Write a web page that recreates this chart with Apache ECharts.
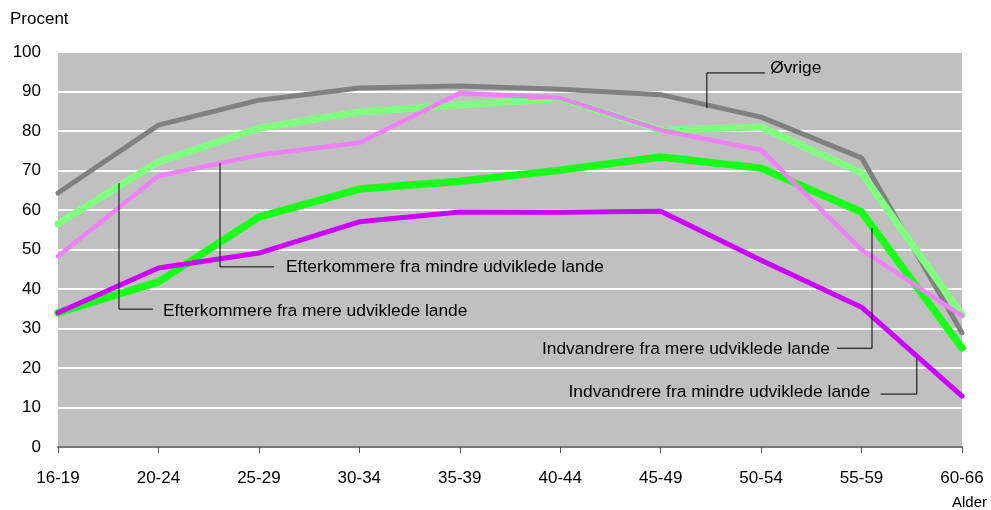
<!DOCTYPE html>
<html>
<head>
<meta charset="utf-8">
<script src="https://cdn.jsdelivr.net/npm/echarts@6/dist/echarts.min.js"></script>
<style>
  html, body { margin: 0; padding: 0; background: #fff; }
  #main { width: 991px; height: 510px; }
</style>
</head>
<body>
<div id="main"></div>
<script>
// age groups
var ages = ['16-19', '20-24', '25-29', '30-34', '35-39', '40-44', '45-49', '50-54', '55-59', '60-66'];

// values (procent)
var ovrige       = [64.3, 81.5, 87.8, 90.9, 91.4, 90.6, 89.2, 83.5, 73.2, 28.9];
var efterMere    = [56.5, 72.2, 80.7, 84.8, 86.6, 88.2, 80.2, 81.0, 69.4, 33.4];
var efterMindre  = [48.3, 68.6, 73.9, 77.0, 89.6, 88.4, 80.2, 75.2, 49.9, 33.2];
var indvMere     = [34.0, 41.8, 58.2, 65.3, 67.3, 70.1, 73.4, 70.6, 59.5, 25.1];
var indvMindre   = [34.0, 45.3, 49.1, 57.0, 59.5, 59.4, 59.7, 47.3, 35.4, 12.9];

var yTicks = [0, 10, 20, 30, 40, 50, 60, 70, 80, 90, 100];

var fontFam = '"Liberation Sans", Arial, sans-serif';

var chart = echarts.init(document.getElementById('main'));

function mkLine(name, data, color, width) {
  return {
    name: name,
    type: 'line',
    data: data,
    symbol: 'none',
    silent: true,
    lineStyle: { color: color, width: width, cap: 'round', join: 'round' }
  };
}

var option = {
  animation: false,
  backgroundColor: '#ffffff',
  grid: {
    left: 58, right: 29, top: 52, bottom: 63,
    show: true, backgroundColor: '#c0c0c0', borderWidth: 0
  },
  xAxis: {
    type: 'category',
    data: ages,
    boundaryGap: false,
    axisLine: { lineStyle: { color: '#777777', width: 2 } },
    axisTick: { show: true, length: 6, lineStyle: { color: '#555555', width: 1 } },
    axisLabel: { color: '#000', fontSize: 17, fontFamily: fontFam, margin: 23 },
    splitLine: { show: false }
  },
  yAxis: {
    type: 'value',
    min: yTicks[0], max: yTicks[yTicks.length - 1], interval: 10,
    axisLine: { show: false },
    axisTick: { show: false },
    axisLabel: { color: '#000', fontSize: 17, fontFamily: fontFam, margin: 17 },
    splitLine: { show: true, lineStyle: { color: '#ffffff', width: 2 } }
  },
  series: [
    mkLine('Øvrige', ovrige, '#808080', 5),
    mkLine('Efterkommere fra mere udviklede lande', efterMere, '#80ff80', 7),
    mkLine('Indvandrere fra mere udviklede lande', indvMere, '#1aff1a', 7.5),
    mkLine('Efterkommere fra mindre udviklede lande', efterMindre, '#ee80f8', 4.5),
    mkLine('Indvandrere fra mindre udviklede lande', indvMindre, '#cc00ff', 5)
  ]
};
chart.setOption(option);

// annotation labels with leader lines, placed in data units (category index, value)
var notes = [
  { text: 'Øvrige', line: [[6.46, 85.8], [6.46, 94.7], [7.04, 94.7]], at: [7.09, 96.0], align: 'left' },
  { text: 'Efterkommere fra mindre udviklede lande', line: [[1.613, 71.9], [1.613, 45.6], [2.15, 45.6]], at: [2.27, 45.6], align: 'left' },
  { text: 'Efterkommere fra mere udviklede lande', line: [[0.607, 66.8], [0.607, 34.9], [0.945, 34.9]], at: [1.045, 34.4], align: 'left' },
  { text: 'Indvandrere fra mere udviklede lande', line: [[7.756, 25.0], [8.104, 25.0], [8.104, 55.4]], at: [7.686, 24.8], align: 'right' },
  { text: 'Indvandrere fra mindre udviklede lande', line: [[8.19, 13.4], [8.55, 13.4], [8.55, 22.3]], at: [8.085, 13.9], align: 'right' }
];

var p0 = chart.convertToPixel({ gridIndex: 0 }, [0, 0]);
var p1 = chart.convertToPixel({ gridIndex: 0 }, [1, 100]);
function px(pt) {
  return [p0[0] + pt[0] * (p1[0] - p0[0]), p0[1] + pt[1] / 100 * (p1[1] - p0[1])];
}

var gfx = [];
notes.forEach(function (n) {
  gfx.push({
    type: 'polyline',
    silent: true,
    z: 100,
    shape: { points: n.line.map(px) },
    style: { stroke: '#000', lineWidth: 1, fill: null }
  });
  var a = px(n.at);
  gfx.push({
    type: 'text',
    silent: true,
    z: 100,
    x: a[0], y: a[1],
    style: {
      text: n.text, fill: '#000', font: '17.4px ' + fontFam,
      align: n.align, verticalAlign: 'middle'
    }
  });
});

gfx.push({
  type: 'text', left: 10, top: 11, silent: true,
  style: { text: 'Procent', fill: '#000', font: '17px ' + fontFam }
});
gfx.push({
  type: 'text', x: 952, y: 503, silent: true,
  style: { text: 'Alder', fill: '#000', font: '15px ' + fontFam, verticalAlign: 'middle' }
});

chart.setOption({ graphic: gfx });
</script>
</body>
</html>
